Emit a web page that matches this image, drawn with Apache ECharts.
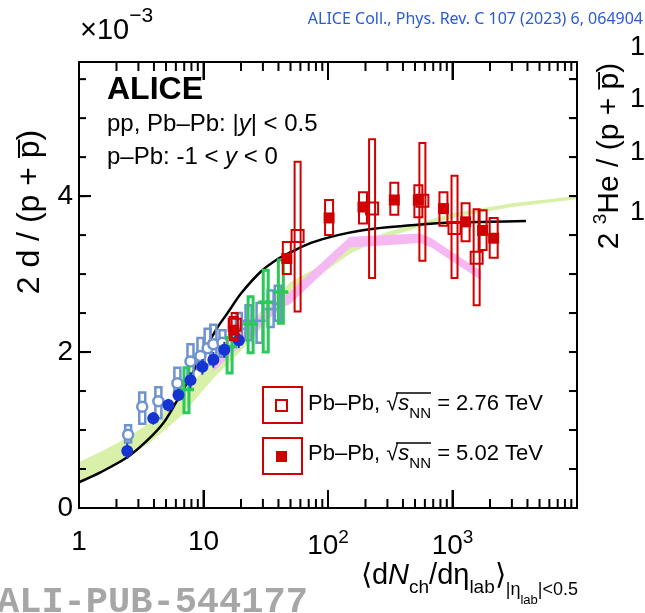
<!DOCTYPE html>
<html><head><meta charset="utf-8">
<script src="https://cdn.jsdelivr.net/npm/echarts@6/dist/echarts.min.js"></script>
<style>html,body{margin:0;padding:0;background:#fff}#c{width:645px;height:613px}</style>
</head><body><div id="c"></div>
<script>
// ---------------- data ----------------
const xTickVals = [1, 10, 100, 1000, 10000];
const xTickLabels = ['1', '10', '{m|10}{s|2}', '{m|10}{s|3}', ''];
const yTickVals = [0, 2, 4];
const yTickLabels = ['0', '2', '4'];
const yMinorTickVals = [0, 0.5, 1, 1.5, 2, 2.5, 3, 3.5, 4, 4.5, 5, 5.5];
const rightTickLabels = ['1', '1', '1', '1'];
const xMinorTicks = [2, 3, 4, 5, 6, 7, 8, 9, 20, 30, 40, 50, 60, 70, 80, 90,
  200, 300, 400, 500, 600, 700, 800, 900, 2000, 3000, 4000, 5000, 6000, 7000, 8000, 9000];

// Model band (green)
const bandA_x  = [1, 1.5, 2.44, 4, 6.5, 12, 20, 30, 50, 100, 153, 300, 1000, 3000, 10000];
const bandA_lo = [0.31, 0.45, 0.64, 0.88, 1.17, 1.66, 2.02, 2.33, 2.74, 3.06, 3.27, 3.48, 3.72, 3.86, 3.96];
const bandA_hi = [0.59, 0.72, 0.90, 1.13, 1.42, 1.92, 2.26, 2.55, 2.90, 3.16, 3.36, 3.54, 3.78, 3.91, 4.00];
// Model band (pink)
const bandB_x  = [12, 20, 30, 42, 50, 150, 550, 680, 1000, 1700];
const bandB_lo = [1.75, 2.08, 2.36, 2.56, 2.62, 3.34, 3.40, 3.34, 3.16, 2.92];
const bandB_hi = [1.90, 2.22, 2.50, 2.70, 2.78, 3.48, 3.52, 3.46, 3.28, 3.04];
// Model curve (black)
const curve_x = [1, 1.5, 2.44, 3.5, 4.76, 6, 7.86, 10, 13, 15.6, 20, 28.8, 40, 50, 73, 120, 185, 300, 500, 1000, 2000, 3890];
const curve_y = [0.33, 0.46, 0.65, 0.86, 1.09, 1.35, 1.68, 2.0, 2.32, 2.5, 2.75, 3.03, 3.2, 3.28, 3.40, 3.5, 3.56, 3.6, 3.63, 3.66, 3.67, 3.68];

// pp (dark blue, filled circles)
const ppA_x   = [2.44, 3.95, 5.22, 6.29, 7.86, 9.8, 12.0, 14.7, 19.2];
const ppA_y   = [0.73, 1.15, 1.32, 1.45, 1.64, 1.81, 1.90, 2.03, 2.15];
const ppA_err = [0.10, 0.08, 0.08, 0.08, 0.10, 0.10, 0.10, 0.10, 0.10];
// pp (light blue, open circles)
const ppB_x     = [2.48, 3.22, 4.34, 6.17, 7.86, 9.45, 10.8, 12.0, 14.2];
const ppB_y     = [0.94, 1.30, 1.37, 1.60, 1.88, 1.95, 2.05, 2.10, 2.12];
const ppB_sysLo = [0.84, 1.08, 1.15, 1.45, 1.70, 1.78, 1.84, 1.90, 1.94];
const ppB_sysHi = [1.06, 1.48, 1.55, 1.80, 2.10, 2.18, 2.30, 2.35, 2.28];
// light blue (crosses)
const ppC_x     = [19.2, 23, 28.2, 34.6, 39.5];
const ppC_y     = [2.30, 2.40, 2.40, 2.55, 2.62];
const ppC_sysLo = [2.10, 2.15, 2.12, 2.32, 2.40];
const ppC_sysHi = [2.50, 2.60, 2.63, 2.79, 2.85];
// p-Pb (green crosses)
const pPb_x     = [7.3, 16.2, 23.9, 31.6, 41.8];
const pPb_y     = [1.52, 2.07, 2.36, 2.64, 2.77];
const pPb_sysLo = [1.22, 1.73, 1.99, 2.00, 2.37];
const pPb_sysHi = [1.80, 2.19, 2.71, 3.05, 3.18];
// Pb-Pb 2.76 TeV (open squares)
const pb276_x     = [17.8, 57, 226, 573, 1038, 1563];
const pb276_y     = [2.35, 3.49, 3.84, 3.94, 3.59, 3.21];
const pb276_sysLo = [2.18, 2.52, 2.95, 3.17, 2.95, 2.60];
const pb276_sysHi = [2.50, 4.44, 4.73, 4.68, 4.26, 3.83];
// Pb-Pb 5.02 TeV (filled squares)
const pb502_x     = [17.5, 46.7, 102, 191, 341, 532, 846, 1274, 1745, 2142];
const pb502_y     = [2.28, 3.20, 3.72, 3.86, 3.95, 3.95, 3.84, 3.67, 3.56, 3.46];
const pb502_sysLo = [2.15, 3.00, 3.50, 3.65, 3.76, 3.73, 3.62, 3.42, 3.31, 3.21];
const pb502_sysHi = [2.45, 3.41, 3.95, 4.05, 4.17, 4.14, 4.05, 3.91, 3.82, 3.72];

// ---------------- chart ----------------
const F = '"Liberation Sans", Arial, Helvetica, sans-serif';
const XMIN = 1, XMAX = 10000, YMAX = 5.72;
const RED = '#d10000', BLUE = '#1634d2', LBLUE = '#6e93cf', GREEN = '#2bc85a';

function zip(a, b) { return a.map((v, i) => [v, b[i]]); }

function band(xs, lo, hi, color, z) {
  return {
    type: 'custom', z, clip: true, silent: true, xAxisIndex: 0, yAxisIndex: 0,
    data: [[xs[0], lo[0]]],
    renderItem(params, api) {
      const pts = [];
      for (let i = 0; i < xs.length; i++) pts.push(api.coord([xs[i], hi[i]]));
      for (let i = xs.length - 1; i >= 0; i--) pts.push(api.coord([xs[i], lo[i]]));
      return { type: 'polygon', shape: { points: pts }, style: { fill: color } };
    }
  };
}
function boxes(xs, lo, hi, color, w, lw, z) {
  return {
    type: 'custom', z, clip: true, silent: true, xAxisIndex: 0, yAxisIndex: 0,
    data: xs.map((x, i) => [x, lo[i], hi[i]]),
    encode: { x: 0, y: [1, 2] },
    renderItem(params, api) {
      const t = api.coord([api.value(0), api.value(2)]);
      const b = api.coord([api.value(0), api.value(1)]);
      return { type: 'rect', shape: { x: t[0] - w / 2, y: t[1], width: w, height: b[1] - t[1] },
        style: { fill: 'rgba(0,0,0,0)', stroke: color, lineWidth: lw } };
    }
  };
}
function errbars(xs, ys, e, color, lw, z) {
  return {
    type: 'custom', z, clip: true, silent: true, xAxisIndex: 0, yAxisIndex: 0,
    data: xs.map((x, i) => [x, ys[i] - e[i], ys[i] + e[i]]),
    encode: { x: 0, y: [1, 2] },
    renderItem(params, api) {
      const t = api.coord([api.value(0), api.value(2)]);
      const b = api.coord([api.value(0), api.value(1)]);
      return { type: 'line', shape: { x1: t[0], y1: t[1], x2: b[0], y2: b[1] }, style: { stroke: color, lineWidth: lw } };
    }
  };
}
function crosses(xs, ys, color, w, lw, z) {
  return {
    type: 'custom', z, clip: true, silent: true, xAxisIndex: 0, yAxisIndex: 0,
    data: zip(xs, ys),
    renderItem(params, api) {
      const p = api.coord([api.value(0), api.value(1)]);
      return { type: 'line', shape: { x1: p[0] - w / 2, y1: p[1], x2: p[0] + w / 2, y2: p[1] }, style: { stroke: color, lineWidth: lw } };
    }
  };
}
// all frame ticks, placed through the axes' scales: [x, y, dxPixels, dyPixels]
const tickItems = [];
xTickVals.forEach(v => { tickItems.push([v, 0, 0, -18]); tickItems.push([v, YMAX, 0, 18]); });
xMinorTicks.forEach(v => { tickItems.push([v, 0, 0, -9]); tickItems.push([v, YMAX, 0, 9]); });
yTickVals.forEach(v => { tickItems.push([XMIN, v, 12, 0]); });
yMinorTickVals.forEach(v => { tickItems.push([XMIN, v, 7, 0]); tickItems.push([XMAX, v, -8, 0]); });
const tickSeries = {
  type: 'custom', z: 60, clip: false, silent: true, xAxisIndex: 0, yAxisIndex: 0,
  data: tickItems, encode: { x: 0, y: 1 },
  renderItem(params, api) {
    const p = api.coord([api.value(0), api.value(1)]);
    return { type: 'line', shape: { x1: p[0], y1: p[1], x2: p[0] + api.value(2), y2: p[1] + api.value(3) },
      style: { stroke: '#000', lineWidth: 2 } };
  }
};

const axisLbl = { color: '#000', fontFamily: F, fontSize: 28 };

const gfx = [
    { type: 'text', x: 643, y: 19, style: { text: 'ALICE Coll., Phys. Rev. C 107 (2023) 6, 064904', fill: '#2a5ad6',
      font: '16px "Noto Sans", sans-serif', align: 'right', verticalAlign: 'middle' } },
    { type: 'text', x: 80, y: 6, style: { text: '{a|×10}{b|−3}', align: 'left', verticalAlign: 'top',
      rich: { a: { fontSize: 29, fontFamily: F, fill: '#000', lineHeight: 30, padding: [10, 0, 0, 0], verticalAlign: 'top' },
              b: { fontSize: 21, fontFamily: F, fill: '#000', lineHeight: 22, verticalAlign: 'top' } } } },
    { type: 'text', x: 30, y: 212, rotation: Math.PI / 2, style: { text: '2 d / (p + p\u0305)', font: '32px ' + F,
      fill: '#000', align: 'center', verticalAlign: 'middle' } },
    { type: 'text', x: 608, y: 156, rotation: Math.PI / 2, style: { text: '{a|2 }{b|3}{a|He / (p + p\u0305)}', align: 'center', verticalAlign: 'middle',
      rich: { a: { fontSize: 30, fontFamily: F, fill: '#000', lineHeight: 33, verticalAlign: 'bottom' },
              b: { fontSize: 19, fontFamily: F, fill: '#000', lineHeight: 19, verticalAlign: 'top' } } } },
    { type: 'text', x: 630, y: 48, style: { text: rightTickLabels[0], font: '27px ' + F, fill: '#000', align: 'left', verticalAlign: 'middle' } },
    { type: 'text', x: 630, y: 100, style: { text: rightTickLabels[1], font: '27px ' + F, fill: '#000', align: 'left', verticalAlign: 'middle' } },
    { type: 'text', x: 630, y: 153, style: { text: rightTickLabels[2], font: '27px ' + F, fill: '#000', align: 'left', verticalAlign: 'middle' } },
    { type: 'text', x: 630, y: 213, style: { text: rightTickLabels[3], font: '27px ' + F, fill: '#000', align: 'left', verticalAlign: 'middle' } },
    { type: 'text', x: 107, y: 90, style: { text: 'ALICE', font: 'bold 32px ' + F, fill: '#000', align: 'left', verticalAlign: 'middle' } },
    { type: 'text', x: 107, y: 124, style: { text: '{n|pp, Pb–Pb: |}{i|y}{n|| < 0.5}', align: 'left', verticalAlign: 'middle',
      rich: { n: { fontSize: 24, fontFamily: F, fill: '#000' }, i: { fontSize: 24, fontFamily: F, fontStyle: 'italic', fill: '#000' } } } },
    { type: 'text', x: 107, y: 157, style: { text: '{n|p–Pb: -1 < }{i|y}{n| < 0}', align: 'left', verticalAlign: 'middle',
      rich: { n: { fontSize: 24, fontFamily: F, fill: '#000' }, i: { fontSize: 24, fontFamily: F, fontStyle: 'italic', fill: '#000' } } } },
    // legend
    { type: 'rect', shape: { x: 263, y: 387, width: 39, height: 36 }, style: { fill: 'rgba(0,0,0,0)', stroke: RED, lineWidth: 2 } },
    { type: 'rect', shape: { x: 276, y: 400, width: 11, height: 11 }, style: { fill: 'rgba(0,0,0,0)', stroke: RED, lineWidth: 2 } },
    { type: 'rect', shape: { x: 263, y: 438, width: 39, height: 36 }, style: { fill: 'rgba(0,0,0,0)', stroke: RED, lineWidth: 2 } },
    { type: 'rect', shape: { x: 276, y: 451, width: 11, height: 11 }, style: { fill: RED } },
    { type: 'text', x: 308, y: 405, style: { text: '{n|Pb–Pb, √}{i|s}{s|NN}{n| = 2.76 TeV}', align: 'left', verticalAlign: 'middle',
      rich: { n: { fontSize: 22, fontFamily: F, fill: '#000', lineHeight: 24, verticalAlign: 'top' },
              i: { fontSize: 22, fontFamily: F, fontStyle: 'italic', fill: '#000', lineHeight: 24, verticalAlign: 'top' },
              s: { fontSize: 15, fontFamily: F, fill: '#000', lineHeight: 15, padding: [13, 0, 0, 0], verticalAlign: 'top' } } } },
    { type: 'text', x: 308, y: 455, style: { text: '{n|Pb–Pb, √}{i|s}{s|NN}{n| = 5.02 TeV}', align: 'left', verticalAlign: 'middle',
      rich: { n: { fontSize: 22, fontFamily: F, fill: '#000', lineHeight: 24, verticalAlign: 'top' },
              i: { fontSize: 22, fontFamily: F, fontStyle: 'italic', fill: '#000', lineHeight: 24, verticalAlign: 'top' },
              s: { fontSize: 15, fontFamily: F, fill: '#000', lineHeight: 15, padding: [13, 0, 0, 0], verticalAlign: 'top' } } } },
    { type: 'line', shape: { x1: 396, y1: 393, x2: 431, y2: 393 }, style: { stroke: '#000', lineWidth: 1.5 } },
    { type: 'line', shape: { x1: 396, y1: 443, x2: 431, y2: 443 }, style: { stroke: '#000', lineWidth: 1.5 } },
    // x-axis title
    { type: 'text', x: 578, y: 561, style: { text: '{m|⟨d}{mi|N}{s|ch}{m|/dη}{s|lab}{m|⟩}{t||η}{u|lab}{t||<0.5}', align: 'right', verticalAlign: 'top',
      rich: { m: { fontSize: 29, fontFamily: F, fill: '#000', lineHeight: 30, verticalAlign: 'top' },
              mi: { fontSize: 29, fontFamily: F, fontStyle: 'italic', fill: '#000', lineHeight: 30, verticalAlign: 'top' },
              s: { fontSize: 19, fontFamily: F, fill: '#000', lineHeight: 19, padding: [17, 0, 0, 0], verticalAlign: 'top' },
              t: { fontSize: 18, fontFamily: F, fill: '#000', lineHeight: 18, padding: [20, 0, 0, 0], verticalAlign: 'top' },
              u: { fontSize: 13, fontFamily: F, fill: '#000', lineHeight: 13, padding: [33, 0, 0, 0], verticalAlign: 'top' } } } },
    // watermark
    { type: 'text', x: -3, y: 603, style: { text: 'ALI-PUB-544177', font: 'bold 37px "Liberation Mono", "DejaVu Sans Mono", monospace',
      fill: '#a6a6a6', align: 'left', verticalAlign: 'middle' } }
];

const option = {
  animation: false,
  backgroundColor: '#fff',
  grid: { left: 79, right: 68, top: 62, bottom: 105, containLabel: false },
  xAxis: [
    { type: 'log', logBase: 10, min: XMIN, max: XMAX, position: 'bottom', z: 50,
      axisLine: { show: true, onZero: false, lineStyle: { color: '#000', width: 2 } },
      axisTick: { show: true, inside: true, length: 18, lineStyle: { color: '#000', width: 2 } },
      axisLabel: Object.assign({ margin: 20,
        formatter: (v) => { const i = xTickVals.findIndex(t => Math.abs(Math.log10(t) - Math.log10(v)) < 1e-6); return i >= 0 ? xTickLabels[i] : ''; },
        rich: { m: { fontSize: 28, fontFamily: F, color: '#000', lineHeight: 32, verticalAlign: 'bottom' },
                s: { fontSize: 19, fontFamily: F, color: '#000', lineHeight: 19, verticalAlign: 'top' } } }, axisLbl),
      splitLine: { show: false } },
    { type: 'log', logBase: 10, min: XMIN, max: XMAX, position: 'top', z: 50,
      axisLine: { show: true, onZero: false, lineStyle: { color: '#000', width: 2 } },
      axisTick: { show: true, inside: true, length: 18, lineStyle: { color: '#000', width: 2 } },
      axisLabel: { show: false }, splitLine: { show: false } }
  ],
  yAxis: [
    { type: 'value', min: 0, max: YMAX, interval: 2, position: 'left', z: 50,
      axisLine: { show: true, onZero: false, lineStyle: { color: '#000', width: 2 } },
      axisTick: { show: true, inside: true, length: 12, lineStyle: { color: '#000', width: 2 } },
      axisLabel: Object.assign({ margin: 6, formatter: (v) => { const i = yTickVals.indexOf(v); return i >= 0 ? yTickLabels[i] : ''; } }, axisLbl),
      splitLine: { show: false } },
    { type: 'value', min: 0, max: YMAX, interval: 0.5, position: 'right', z: 50,
      axisLine: { show: true, onZero: false, lineStyle: { color: '#000', width: 2 } },
      axisTick: { show: true, inside: true, length: 8, lineStyle: { color: '#000', width: 2 } },
      axisLabel: { show: false }, splitLine: { show: false } }
  ],
  series: [
    tickSeries,
    band(bandA_x, bandA_lo, bandA_hi, '#d8f0a8', 1),
    band(bandB_x, bandB_lo, bandB_hi, '#f5b8f2', 2),
    { type: 'line', z: 3, xAxisIndex: 0, yAxisIndex: 0, data: zip(curve_x, curve_y), smooth: 0.3,
      showSymbol: false, symbol: 'none', lineStyle: { color: '#000', width: 2.5 }, silent: true },
    // light blue
    boxes(ppB_x, ppB_sysLo, ppB_sysHi, LBLUE, 6, 2.5, 4),
    { type: 'scatter', z: 5, data: zip(ppB_x, ppB_y), symbol: 'circle', symbolSize: 10,
      itemStyle: { color: '#fff', borderColor: LBLUE, borderWidth: 2.5, opacity: 1 }, silent: true },
    boxes(ppC_x, ppC_sysLo, ppC_sysHi, LBLUE, 6, 2.5, 4),
    crosses(ppC_x, ppC_y, LBLUE, 12, 2.5, 5),
    // green
    boxes(pPb_x, pPb_sysLo, pPb_sysHi, GREEN, 5, 3, 6),
    crosses(pPb_x, pPb_y, GREEN, 15, 3.5, 7),
    // dark blue
    errbars(ppA_x, ppA_y, ppA_err, BLUE, 2, 8),
    { type: 'scatter', z: 9, data: zip(ppA_x, ppA_y), symbol: 'circle', symbolSize: 12,
      itemStyle: { color: BLUE, opacity: 1 }, silent: true },
    // red 2.76
    boxes(pb276_x, pb276_sysLo, pb276_sysHi, RED, 6, 2, 10),
    { type: 'scatter', z: 11, data: zip(pb276_x, pb276_y), symbol: 'rect', symbolSize: 12,
      itemStyle: { color: 'rgba(255,255,255,0)', borderColor: RED, borderWidth: 2, opacity: 1 }, silent: true },
    // red 5.02
    boxes(pb502_x, pb502_sysLo, pb502_sysHi, RED, 8, 2, 12),
    { type: 'scatter', z: 13, data: zip(pb502_x, pb502_y), symbol: 'rect', symbolSize: 11,
      itemStyle: { color: RED, opacity: 1 }, silent: true }
  ],
  graphic: { elements: gfx.map(g => Object.assign({ z: 100 }, g)) }
};
const chart = echarts.init(document.getElementById('c'), null, { renderer: 'canvas' });
chart.setOption(option);
</script></body></html>
